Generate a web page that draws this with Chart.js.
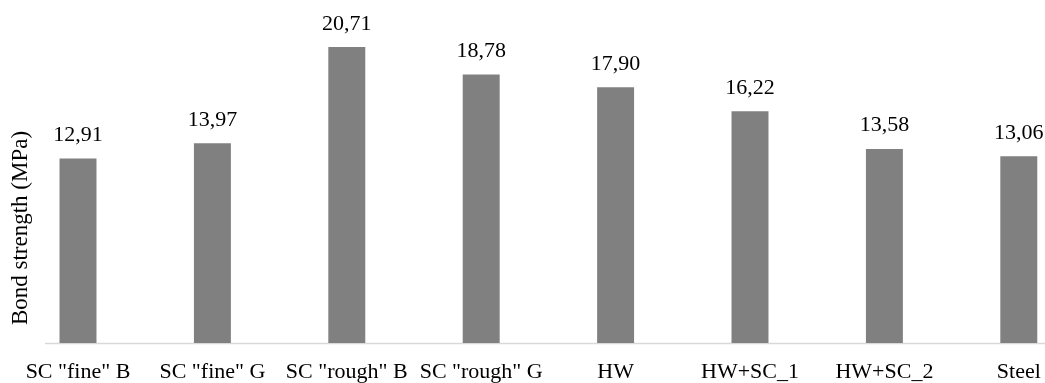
<!DOCTYPE html>
<html>
<head>
<meta charset="utf-8">
<script src="https://cdn.jsdelivr.net/npm/chart.js@4/dist/chart.umd.min.js"></script>
<style>
  html, body { margin: 0; padding: 0; background: #ffffff; overflow: hidden; }
  #wrap { position: relative; width: 1045px; height: 383px; overflow: hidden; }
  canvas { display: block; }
</style>
</head>
<body>
<div id="wrap"><canvas id="c" width="1090" height="383" style="width:1090px;height:383px"></canvas></div>
<script>
// Bond strength per specimen type
const categories = ['SC "fine" B', 'SC "fine" G', 'SC "rough" B', 'SC "rough" G', 'HW', 'HW+SC_1', 'HW+SC_2', 'Steel'];
const bondStrength = [12.91, 13.97, 20.71, 18.78, 17.90, 16.22, 13.58, 13.06];
const yTitle = 'Bond strength (MPa)';

const FONT = '"Liberation Serif", "Times New Roman", serif';

// Value labels above each bar, decimal comma
const valueLabels = {
  id: 'valueLabels',
  afterDatasetsDraw(chart) {
    const ctx = chart.ctx;
    const meta = chart.getDatasetMeta(0);
    ctx.save();
    ctx.font = '22px ' + FONT;
    ctx.fillStyle = '#000000';
    ctx.textAlign = 'center';
    ctx.textBaseline = 'alphabetic';
    meta.data.forEach((bar, i) => {
      const txt = bondStrength[i].toFixed(2).replace('.', ',');
      ctx.fillText(txt, bar.x, bar.y - 17.5);
    });
    ctx.restore();
  }
};

// Horizontal axis line and rotated y-axis title
const axisDecor = {
  id: 'axisDecor',
  beforeDatasetsDraw(chart) {
    const ctx = chart.ctx;
    const y = Math.round(chart.chartArea.bottom) + 0.5;
    ctx.save();
    ctx.strokeStyle = '#d9d9d9';
    ctx.lineWidth = 1.5;
    ctx.beginPath();
    ctx.moveTo(45, y);
    ctx.lineTo(1045, y);
    ctx.stroke();
    ctx.restore();
  },
  afterDraw(chart) {
    const ctx = chart.ctx;
    ctx.save();
    ctx.translate(21, 228);
    ctx.rotate(-Math.PI / 2);
    ctx.font = '23px ' + FONT;
    ctx.fillStyle = '#000000';
    ctx.textAlign = 'center';
    ctx.textBaseline = 'middle';
    ctx.fillText(yTitle, 0, 0);
    ctx.restore();
  }
};

new Chart(document.getElementById('c'), {
  type: 'bar',
  data: {
    labels: categories,
    datasets: [{
      data: bondStrength,
      backgroundColor: '#808080',
      borderWidth: 0,
      categoryPercentage: 1.0,
      barPercentage: 0.275
    }]
  },
  options: {
    responsive: false,
    animation: false,
    events: [],
    layout: { padding: { left: 10.8, right: 4, top: 0, bottom: 0 } },
    plugins: {
      legend: { display: false },
      tooltip: { enabled: false },
      title: { display: false }
    },
    scales: {
      x: {
        grid: { display: false },
        border: { display: false },
        ticks: {
          color: '#000000',
          font: { family: FONT, size: 22 },
          padding: 8,
          maxRotation: 0,
          autoSkip: false
        },
        afterFit(scale) { scale.height = 40; }
      },
      y: {
        display: false,
        min: 0,
        max: 24
      }
    }
  },
  plugins: [valueLabels, axisDecor]
});
</script>
</body>
</html>
